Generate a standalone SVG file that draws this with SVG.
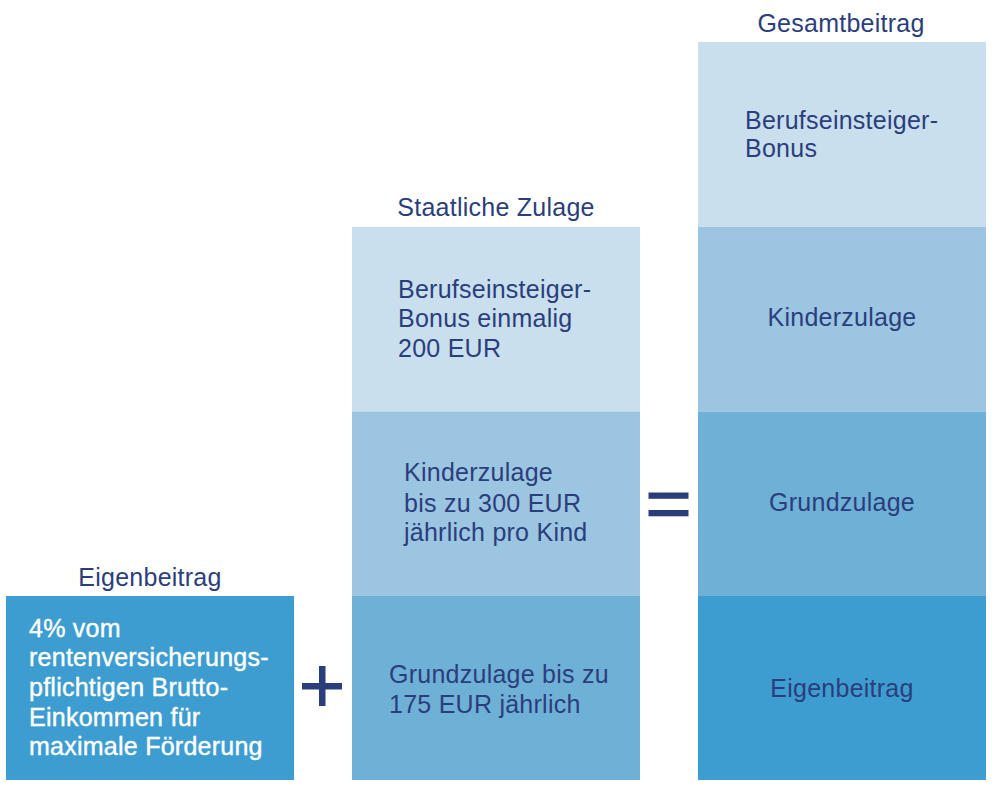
<svg xmlns="http://www.w3.org/2000/svg" width="995" height="787" viewBox="0 0 995 787">
<style>
text{font-family:"Liberation Sans","Noto Sans",Arial,sans-serif;font-size:25px;fill:#2b3e7c;letter-spacing:0.25px}
.w{fill:#ffffff;stroke:#ffffff;stroke-width:0.4px}
.m{text-anchor:middle}
.c1{fill:#c9dfed}
.c2{fill:#9bc5e1}
.c3{fill:#6fb0d7}
.c4{fill:#3e9dd0}
.op{fill:#2b3e7c}
</style>
<rect width="995" height="787" fill="#ffffff"/>
<g id="eigenbeitrag">
<text class="m" x="150" y="586">Eigenbeitrag</text>
<rect class="c4" x="6" y="596" width="288" height="184"/>
<text class="w" x="29" y="637">4% vom</text>
<text class="w" x="29" y="666">rentenversicherungs-</text>
<text class="w" x="29" y="695.5">pflichtigen Brutto-</text>
<text class="w" x="29" y="725.5">Einkommen für</text>
<text class="w" x="29" y="755">maximale Förderung</text>
</g>
<g id="plus">
<rect class="op" x="302" y="683" width="40" height="6.5"/>
<rect class="op" x="319" y="666" width="6.5" height="40"/>
</g>
<g id="staatliche-zulage">
<text class="m" x="496" y="216">Staatliche Zulage</text>
<rect class="c1" x="352" y="227" width="288" height="184.5"/>
<rect class="c2" x="352" y="411.5" width="288" height="184.5"/>
<rect class="c3" x="352" y="596" width="288" height="184"/>
<text x="398" y="298">Berufseinsteiger-</text>
<text x="398" y="327">Bonus einmalig</text>
<text x="398" y="357">200 EUR</text>
<text x="404" y="481">Kinderzulage</text>
<text x="404" y="511.5">bis zu 300 EUR</text>
<text x="404" y="540.5">jährlich pro Kind</text>
<text x="389" y="683">Grundzulage bis zu</text>
<text x="389" y="713">175 EUR jährlich</text>
</g>
<g id="equals">
<rect class="op" x="648.5" y="492.5" width="40" height="6.3"/>
<rect class="op" x="648.5" y="510" width="40" height="6.3"/>
</g>
<g id="gesamtbeitrag">
<text class="m" x="841" y="32">Gesamtbeitrag</text>
<rect class="c1" x="698" y="42" width="288" height="185"/>
<rect class="c2" x="698" y="227" width="288" height="184.5"/>
<rect class="c3" x="698" y="411.5" width="288" height="184.5"/>
<rect class="c4" x="698" y="596" width="288" height="184"/>
<text x="745" y="128.5">Berufseinsteiger-</text>
<text x="745" y="157">Bonus</text>
<text class="m" x="842" y="326">Kinderzulage</text>
<text class="m" x="842" y="511">Grundzulage</text>
<text class="m" x="842" y="697">Eigenbeitrag</text>
</g>
<g id="connectors"></g>
</svg>
